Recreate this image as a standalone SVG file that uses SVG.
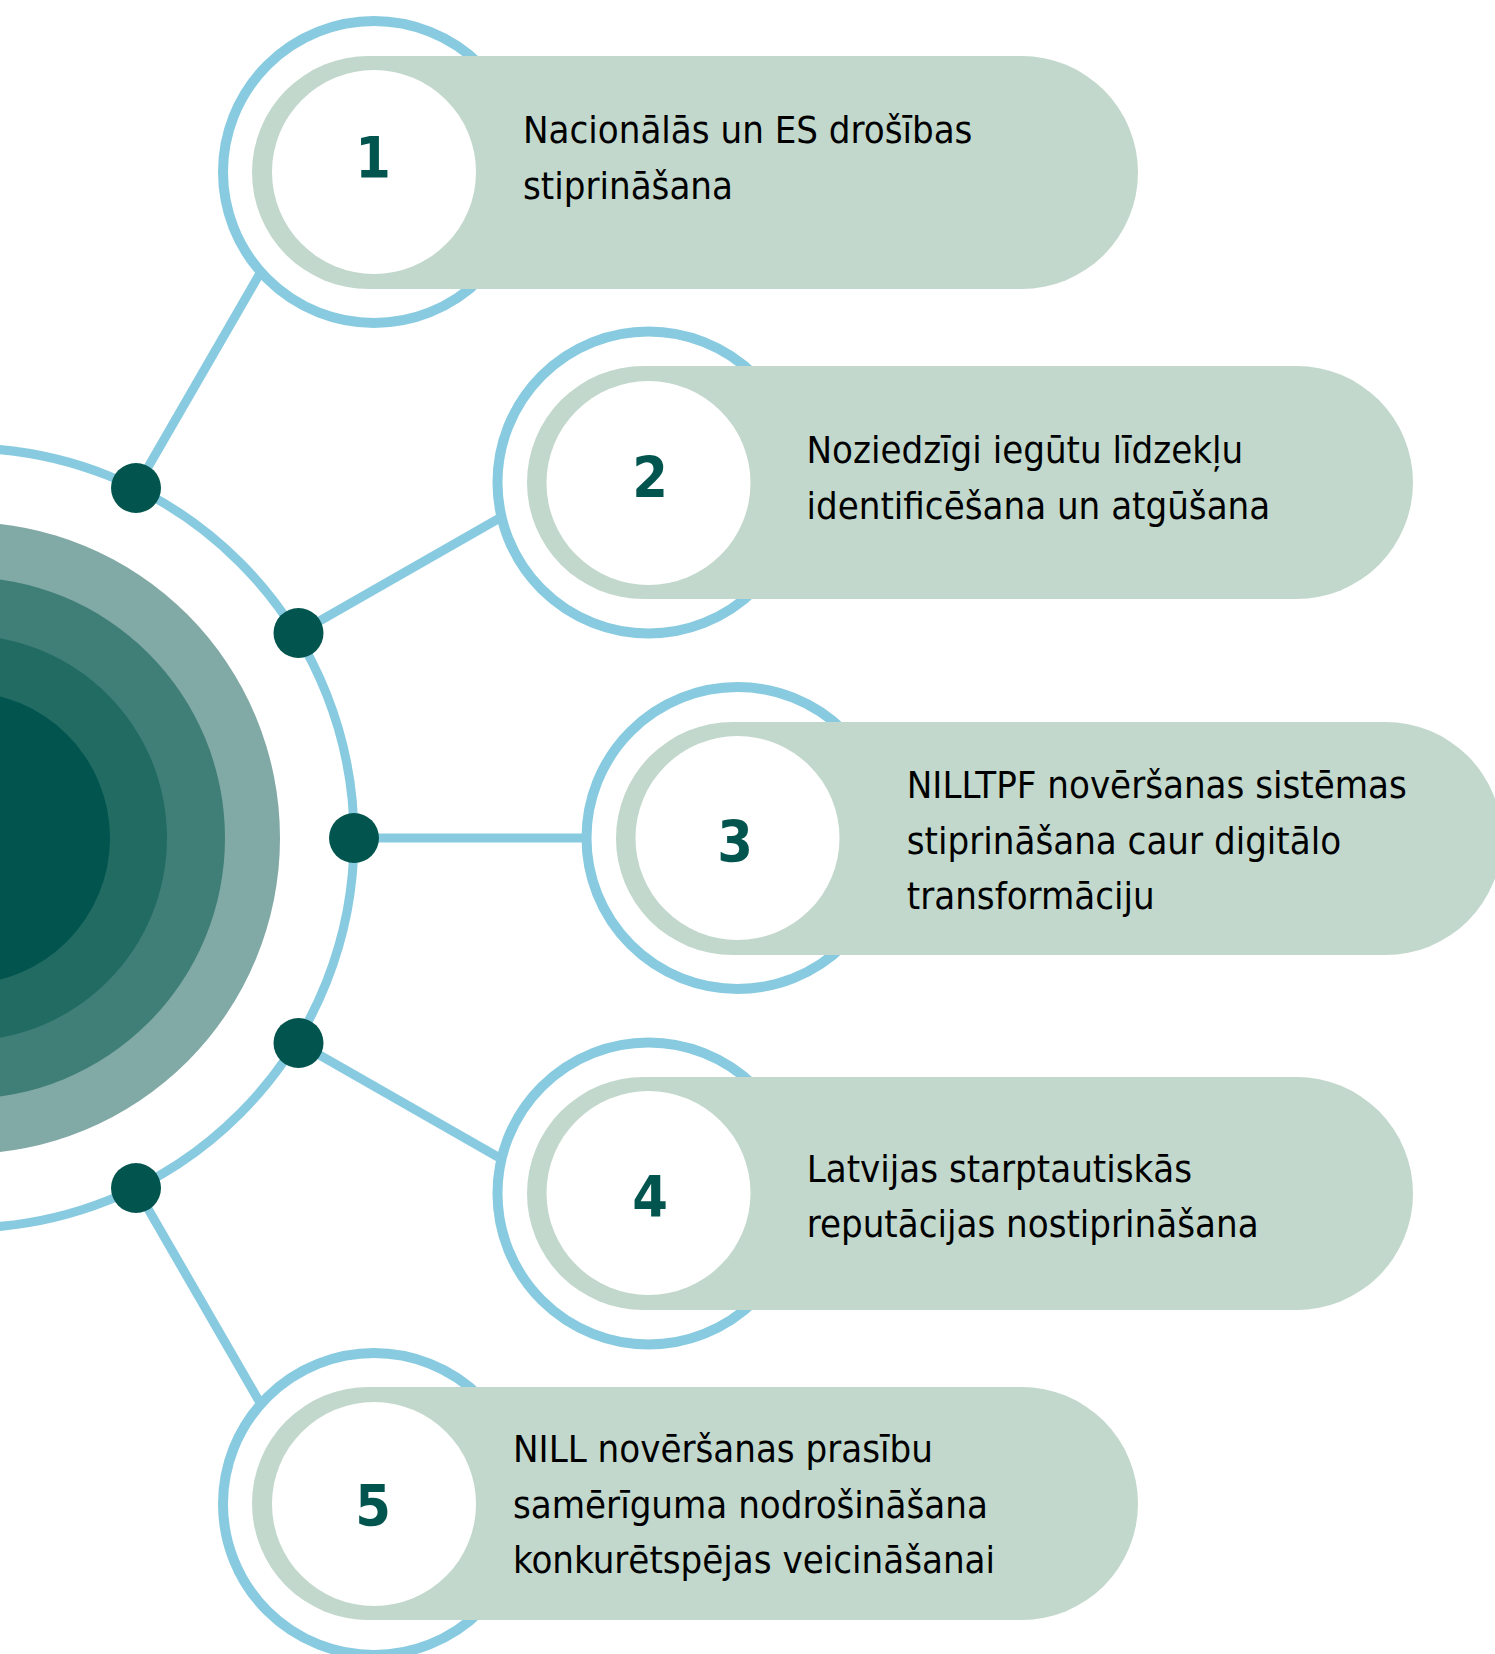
<svg xmlns="http://www.w3.org/2000/svg" width="1495" height="1654" viewBox="0 0 1495 1654">
<style>
.ring{fill:none;stroke:#88cbe0;stroke-width:10}
.pill{fill:#c2d8cc}
.inner{fill:#ffffff}
.num{font-family:"DejaVu Sans Condensed","DejaVu Sans",sans-serif;font-stretch:condensed;font-weight:bold;font-size:57px;fill:#02554e;text-anchor:middle}
.lbl{font-family:"DejaVu Sans Condensed","DejaVu Sans",sans-serif;font-stretch:condensed;font-size:38px;fill:#000000}
.conn{stroke:#88cbe0;stroke-width:9;fill:none}
.dot{fill:#02554e}
</style>
<rect width="1495" height="1654" fill="#ffffff"/>
<g id="hub">
<circle cx="-36" cy="838" r="316" fill="#81a9a5"/>
<circle cx="-36" cy="838" r="261" fill="#407f78"/>
<circle cx="-36" cy="838" r="203" fill="#216b63"/>
<circle cx="-36" cy="838" r="146" fill="#02554e"/>
</g>
<g id="connectors">
<circle class="conn" cx="-36" cy="838" r="390"/>
<line class="conn" x1="136" y1="488" x2="259" y2="275"/>
<line class="conn" x1="298.5" y1="633" x2="498" y2="519"/>
<line class="conn" x1="354" y1="838" x2="584" y2="838"/>
<line class="conn" x1="298.5" y1="1043" x2="498" y2="1157"/>
<line class="conn" x1="136" y1="1188" x2="259" y2="1401"/>
</g>
<g id="junctions">
<circle class="dot" cx="136" cy="488" r="25"/>
<circle class="dot" cx="298.5" cy="633" r="25"/>
<circle class="dot" cx="354" cy="838" r="25"/>
<circle class="dot" cx="298.5" cy="1043" r="25"/>
<circle class="dot" cx="136" cy="1188" r="25"/>
</g>
<g id="node1">
<circle class="ring" cx="374" cy="172" r="151"/>
<rect class="pill" x="252" y="56" width="886" height="233" rx="116.5"/>
<circle class="inner" cx="374" cy="172" r="102"/>
<text class="num" x="373" y="178">1</text>
<text class="lbl" x="523" y="142.7">Nacionālās un ES drošības</text>
<text class="lbl" x="523" y="199">stiprināšana</text>
</g>
<g id="node2">
<circle class="ring" cx="648.5" cy="482.5" r="151"/>
<rect class="pill" x="527" y="366" width="886" height="233" rx="116.5"/>
<circle class="inner" cx="648.5" cy="483" r="102"/>
<text class="num" x="650" y="498.3">2</text>
<text class="lbl" x="806.5" y="462.7">Noziedzīgi iegūtu līdzekļu</text>
<text class="lbl" x="806.5" y="519">identificēšana un atgūšana</text>
</g>
<g id="node3">
<circle class="ring" cx="737.5" cy="838" r="151"/>
<rect class="pill" x="616" y="722" width="886" height="233" rx="116.5"/>
<circle class="inner" cx="737.5" cy="838" r="102"/>
<text class="num" x="735" y="861.7">3</text>
<text class="lbl" x="906.8" y="798">NILLTPF novēršanas sistēmas</text>
<text class="lbl" x="906.8" y="853.5">stiprināšana caur digitālo</text>
<text class="lbl" x="906.8" y="909">transformāciju</text>
</g>
<g id="node4">
<circle class="ring" cx="648.5" cy="1193.5" r="151"/>
<rect class="pill" x="527" y="1077" width="886" height="233" rx="116.5"/>
<circle class="inner" cx="648.5" cy="1193" r="102"/>
<text class="num" x="650" y="1216.7">4</text>
<text class="lbl" x="806.7" y="1181.7">Latvijas starptautiskās</text>
<text class="lbl" x="806.7" y="1237.3">reputācijas nostiprināšana</text>
</g>
<g id="node5">
<circle class="ring" cx="374" cy="1504" r="151"/>
<rect class="pill" x="252" y="1387" width="886" height="233" rx="116.5"/>
<circle class="inner" cx="374" cy="1504" r="102"/>
<text class="num" x="373" y="1526">5</text>
<text class="lbl" x="513" y="1461.7">NILL novēršanas prasību</text>
<text class="lbl" x="513" y="1517.7">samērīguma nodrošināšana</text>
<text class="lbl" x="513" y="1573.3">konkurētspējas veicināšanai</text>
</g>
</svg>
